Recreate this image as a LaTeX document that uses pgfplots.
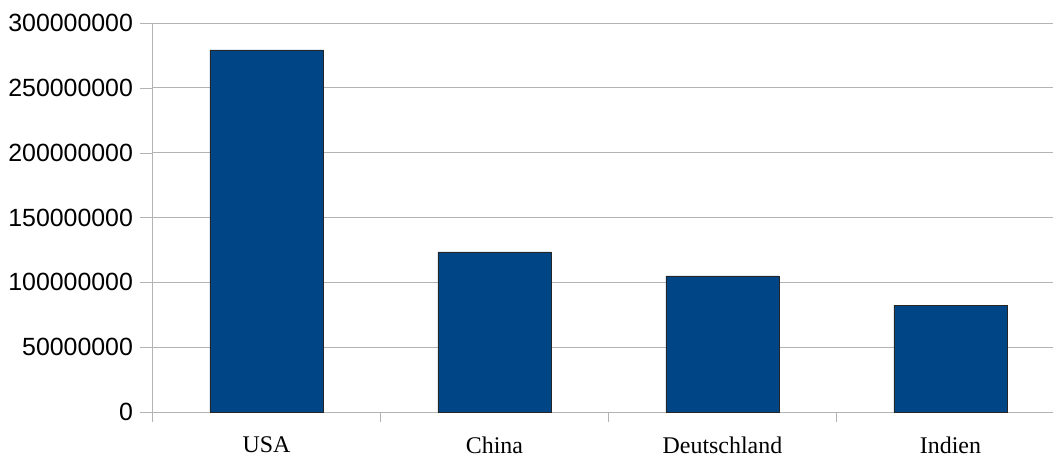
\documentclass[border=0pt]{standalone}
\usepackage{fontspec}
\setmainfont{Liberation Serif}
\newfontfamily\sansf{Liberation Sans}
\usepackage{pgfplots}
\pgfplotsset{compat=1.18}
\definecolor{barblue}{HTML}{004586}
\definecolor{gridgray}{HTML}{B3B3B3}

\begin{document}
\begin{tikzpicture}
  \begin{axis}[
    name=ax,
    scale only axis,
    width=900.5bp, height=389bp,
    xmin=-0.5, xmax=3.45,
    ymin=0, ymax=300000000,
    axis x line=bottom, axis y line=left,
    axis line style={gridgray, -},
    xtick={0,1,2,3},
    xticklabels={USA,China,Deutschland,Indien},
    minor xtick={-0.5,0.5,1.5,2.5},
    major x tick style={draw=none},
    minor x tick style={gridgray},
    ytick={0,50000000,100000000,150000000,200000000,250000000,300000000},
    y tick style={gridgray},
    tick align=outside,
    major tick length=12bp, minor tick length=10bp,
    ymajorgrids, grid style={gridgray, line width=0.8pt},
    scaled y ticks=false,
    /pgf/number format/assume math mode=true,
    yticklabel style={font=\sansf\fontsize{25}{29}\selectfont, xshift=-4bp,
      /pgf/number format/fixed, /pgf/number format/1000 sep={}},
    xticklabel style={font=\fontsize{24}{28}\selectfont, yshift=-9bp},
    clip=false,
  ]
    % Werte in Stueck
    \addplot[ybar, bar width=0.496, fill=barblue, draw=black!85, line width=0.6pt]
      coordinates {(0,279200000) (1,123400000) (2,105000000) (3,82500000)};
  \end{axis}
  \pgfresetboundingbox
  \path[use as bounding box] ([xshift=-152.5bp, yshift=-45bp]ax.south west)
    rectangle ([yshift=23bp]ax.north east);
\end{tikzpicture}
\end{document}
